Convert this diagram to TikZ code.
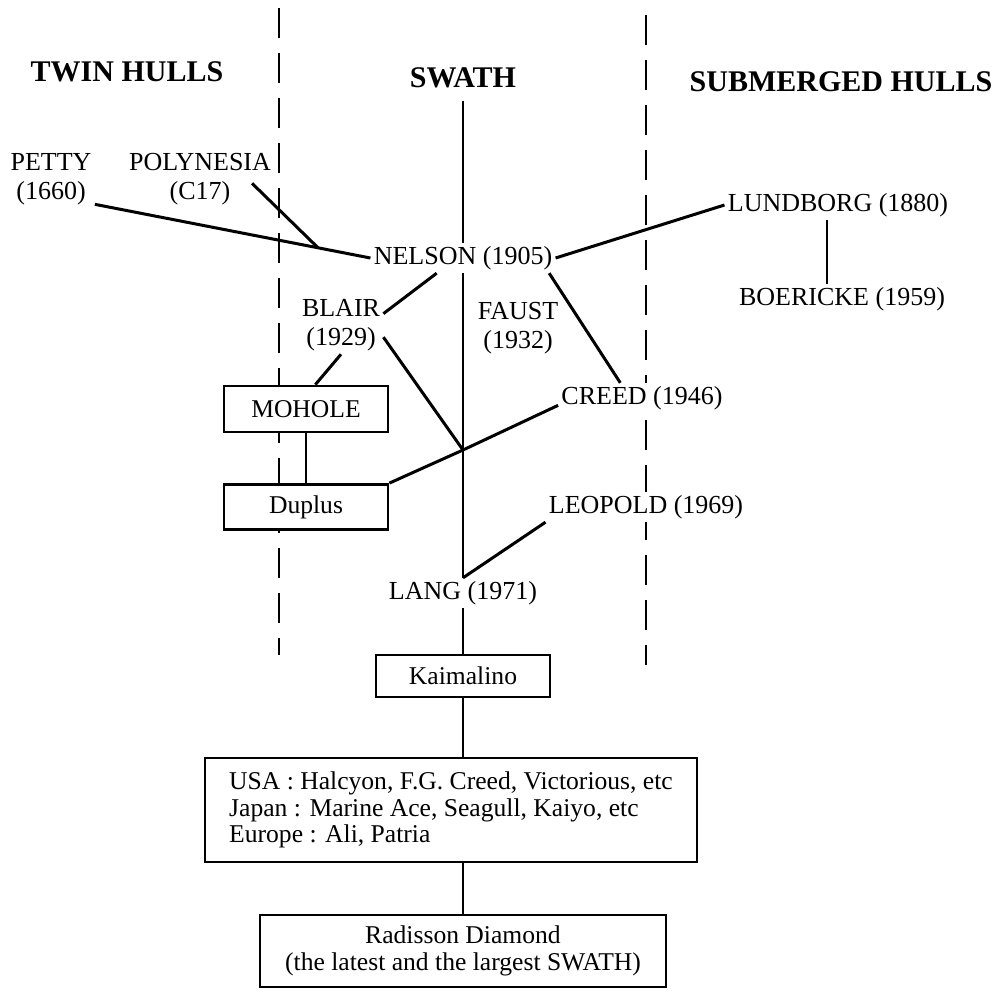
\documentclass[tikz,border=0pt]{standalone}
\usepackage{fontspec}
\setmainfont{Liberation Serif}
\usetikzlibrary{calc}

\begin{document}
\begin{tikzpicture}[x=0.5pt, y=-0.5pt,
    colhead/.style={font=\fontsize{15}{17}\selectfont\bfseries, inner sep=1.5pt},
    craft/.style={font=\fontsize{13}{14.5}\selectfont, align=center, fill=white, inner sep=1.5pt},
    hullbox/.style={draw, line width=1.4pt, fill=white, font=\fontsize{12.8}{13.2}\selectfont, align=center, inner sep=0pt},
    conn/.style={line width=1.5pt},
    stem/.style={line width=1.2pt},
    divider/.style={line width=1.3pt, dash pattern=on 15pt off 7.5pt}]
    \useasboundingbox (0,0) rectangle (1001,992);

    \draw[divider] (279,8) -- (279,655);
    \draw[divider] (646,15) -- (646,665);

    \node[colhead] (twin) at (127,72) {TWIN HULLS};
    \node[colhead] (swath) at (463,78) {SWATH};
    \node[colhead] (submerged) at (841,82) {SUBMERGED HULLS};

    \node[craft] (petty) at (51,179) {PETTY\\(1660)};
    \node[craft] (polynesia) at (200,179) {POLYNESIA\\(C17)};
    \node[craft] (nelson) at (463,258) {NELSON (1905)};
    \node[craft] (lundborg) at (838,205) {LUNDBORG (1880)};
    \node[craft] (boericke) at (842,299) {BOERICKE (1959)};
    \node[craft] (blair) at (341,325) {BLAIR\\(1929)};
    \node[craft] (faust) at (518,328) {FAUST\\(1932)};
    \node[craft] (creed) at (642,398) {CREED (1946)};
    \node[craft] (leopold) at (646,507) {LEOPOLD (1969)};
    \node[craft] (lang) at (463,593) {LANG (1971)};

    \node[hullbox, minimum width=82pt, minimum height=23pt] (mohole) at (306,409) {MOHOLE};
    \node[hullbox, minimum width=82pt, minimum height=22.5pt] (duplus) at (306,507) {Duplus};
    \node[hullbox, minimum width=87pt, minimum height=21pt] (kaimalino) at (463,676) {Kaimalino};
    \node[hullbox, align=left, minimum width=246pt, minimum height=52pt] (fleet) at (451,810)
        {USA : Halcyon, F.G. Creed, Victorious, etc\\Japan : Marine Ace, Seagull, Kaiyo, etc\\Europe : Ali, Patria};
    \node[hullbox, minimum width=203pt, minimum height=36pt] (radisson) at (463,951)
        {Radisson Diamond\\(the latest and the largest SWATH)};

    \coordinate (cross) at (463,450);

    \draw[stem, shorten <=4.5pt] (swath.south) -- (nelson.north);
    \draw[stem] (nelson.south) -- (lang.north);
    \draw[conn] (petty.-30) -- (nelson.west);
    \draw[conn] ($(polynesia.south)+(52,-25)$) -- ($(petty.-30)!0.81!(nelson.west)$);
    \draw[conn] (nelson.east) -- (lundborg.west);
    \draw[stem] ([xshift=-5.5pt]lundborg.south) -- ([xshift=-5.5pt]lundborg.south |- boericke.north);
    \draw[conn] (nelson.-150) -- (blair.15);
    \draw[conn] (nelson.-10) -- (creed.145);
    \draw[conn] (blair.-16) -- (cross);
    \draw[conn] (duplus.north east) -- (cross) -- (creed.185);
    \draw[conn] (blair.south) -- (mohole.69);
    \draw[stem] (mohole.south) -- (duplus.north);
    \draw[conn] (leopold.south west) -- (lang.north);
    \draw[stem] (lang.south) -- (kaimalino.north);
    \draw[stem] (kaimalino.south) -- (kaimalino.south |- fleet.north);
    \draw[stem] (fleet.south -| radisson.north) -- (radisson.north);
\end{tikzpicture}
\end{document}
